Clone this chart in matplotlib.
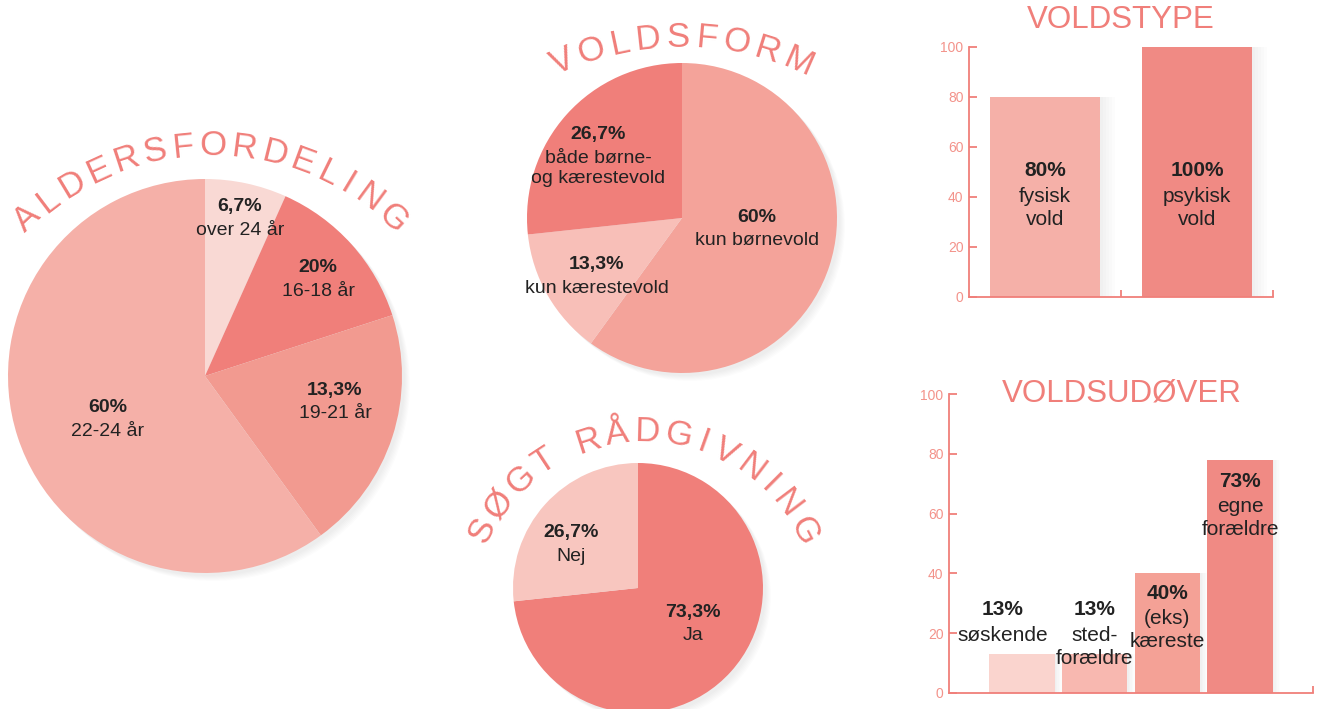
import numpy as np
import matplotlib
matplotlib.use("Agg")
import matplotlib.pyplot as plt
from matplotlib import font_manager as fm
from matplotlib.textpath import text_to_path

W, H = 1323, 709

# --- data ---------------------------------------------------------------
AGE_SIZES = [6.7, 13.3, 20.0, 60.0]
AGE_COLORS = ["#f9d9d4", "#f07f7a", "#f29a90", "#f5b0a8"]
AGE_PCT = ["6,7%", "20%", "13,3%", "60%"]
AGE_DESC = ["over 24 år", "16-18 år", "19-21 år", "22-24 år"]

FORM_SIZES = [60.0, 13.3, 26.7]
FORM_COLORS = ["#f4a39a", "#f8bfb8", "#f07f7a"]
FORM_PCT = ["60%", "13,3%", "26,7%"]
FORM_DESC = ["kun børnevold", "kun kærestevold", "både børne-\nog kærestevold"]

HELP_SIZES = [73.3, 26.7]
HELP_COLORS = ["#f07f7a", "#f8c6bf"]
HELP_PCT = ["73,3%", "26,7%"]
HELP_DESC = ["Ja", "Nej"]

TYPE_VALUES = [80, 100]
TYPE_COLORS = ["#f5b0a8", "#f08a84"]
TYPE_PCT = ["80%", "100%"]
TYPE_DESC = ["fysisk\nvold", "psykisk\nvold"]

PERP_VALUES = [13, 13, 40, 78]
PERP_COLORS = ["#fad4ce", "#f8b8b0", "#f4a196", "#f08a84"]
PERP_PCT = ["13%", "13%", "40%", "73%"]
PERP_DESC = ["søskende", "sted-\nforældre", "(eks)\nkæreste", "egne\nforældre"]

Y_TICKS = [0, 20, 40, 60, 80, 100]

SALMON = "#f07f7a"
TICK_TXT = "#f3938b"
INK = "#222222"
FONT = "Liberation Sans"


def Y(py):
    return H - py


def arc_text(ax, text, cx, cy, r, a0, a1, size, track=0.45):
    prop = fm.FontProperties(family=FONT, size=size)
    widths = [text_to_path.get_text_width_height_descent(c, prop, ismath=False)[0]
              for c in text]
    gap = track * size
    centers, pos = [], 0.0
    for w in widths:
        centers.append(pos + w / 2)
        pos += w + gap
    centers = np.array(centers)
    frac = (centers - centers[0]) / (centers[-1] - centers[0])
    for ch, f in zip(text, frac):
        a = np.radians(a0 + (a1 - a0) * f)
        x = cx + r * np.sin(a)
        y = Y(cy) + r * np.cos(a)
        ax.text(x, y, ch, rotation=-np.degrees(a), rotation_mode="anchor",
                ha="center", va="center", fontproperties=prop, color=SALMON)


def label(ax, x, y, pct, desc, size=14, coords="data"):
    ax.annotate(pct, (x, y), xycoords=coords, ha="center", va="center",
                fontsize=size, fontweight="bold", color=INK, family=FONT)
    ax.annotate(desc, (x, y), xycoords=coords, xytext=(0, -0.75 * size),
                textcoords="offset points", ha="center", va="top",
                fontsize=size, color=INK, family=FONT, linespacing=1.3)


fig = plt.figure(figsize=(W / 100, H / 100), dpi=100)
fig.patch.set_facecolor("white")
ax = fig.add_axes([0, 0, 1, 1])

# soft shadows behind the pies
for (cx, cy, r) in [(205, 376, 197), (682, 218, 155), (638, 588, 125)]:
    for k in range(1, 7):
        ax.add_patch(plt.Circle((cx + 2 + k, Y(cy) - 2 - k), r, color="#000000",
                                alpha=0.012, lw=0, zorder=0))

ax.pie(AGE_SIZES, colors=AGE_COLORS, startangle=90, counterclock=False,
       center=(205, Y(376)), radius=197, wedgeprops=dict(linewidth=0))
ax.pie(FORM_SIZES, colors=FORM_COLORS, startangle=90, counterclock=False,
       center=(682, Y(218)), radius=155, wedgeprops=dict(linewidth=0))
ax.pie(HELP_SIZES, colors=HELP_COLORS, startangle=90, counterclock=False,
       center=(638, Y(588)), radius=125, wedgeprops=dict(linewidth=0))
ax.set_xlim(0, W)
ax.set_ylim(0, H)
ax.set_aspect("equal")
ax.axis("off")

# pie labels
for (px, py), p, d in zip([(240, 207), (318, 268), (335, 390), (108, 408)],
                          AGE_PCT, AGE_DESC):
    label(ax, px, Y(py), p, d)
for (px, py), p, d in zip([(757, 217), (597, 265), (598, 135)],
                          FORM_PCT, FORM_DESC):
    label(ax, px, Y(py), p, d)
for (px, py), p, d in zip([(693, 612), (571, 533)], HELP_PCT, HELP_DESC):
    label(ax, px, Y(py), p, d)

# curved titles
arc_text(ax, "ALDERSFORDELING", 210, 414, 268, -43, 43, 25)
arc_text(ax, "VOLDSFORM", 680, 330, 293, -23.7, 23.7, 25)
arc_text(ax, "SØGT RÅDGIVNING", 643, 612, 180, -63, 63, 25)


def style_bar_axes(bx):
    bx.set_facecolor("none")
    for s in ("top", "right"):
        bx.spines[s].set_visible(False)
    for s in ("left", "bottom"):
        bx.spines[s].set_color(SALMON)
        bx.spines[s].set_linewidth(1.3)
    bx.set_yticks(Y_TICKS)
    bx.tick_params(axis="y", direction="in", length=6, width=1.3,
                   color=SALMON, labelcolor=TICK_TXT, labelsize=10, pad=4)
    bx.tick_params(axis="x", direction="in", length=5, width=1.3,
                   color=SALMON, labelbottom=False)
    for t in bx.get_yticklabels():
        t.set_family(FONT)
    bx.set_ylim(0, 100)


def bar_shadow(bx, xs, values, width):
    for k in range(1, 6):
        bx.bar(xs + 0.02 * k, values, width=width, color="#000000",
               alpha=0.01, zorder=1, linewidth=0)


# VOLDSTYPE
bx1 = fig.add_axes([969 / W, Y(297) / H, (1273 - 969) / W, (297 - 47) / H])
xs = np.arange(len(TYPE_VALUES))
bar_shadow(bx1, xs, TYPE_VALUES, 0.72)
bx1.bar(xs, TYPE_VALUES, width=0.72, color=TYPE_COLORS, zorder=2)
bx1.set_xlim(-0.5, 1.5)
bx1.set_xticks([0.5, 1.5])
style_bar_axes(bx1)
for i, (p, d) in enumerate(zip(TYPE_PCT, TYPE_DESC)):
    label(bx1, i, 50.4, p, d, size=15)
fig.text(1121 / W, Y(20) / H, "VOLDSTYPE", ha="center", va="center",
         fontsize=22.5, color=SALMON, family=FONT)

# VOLDSUDØVER
bx2 = fig.add_axes([949 / W, Y(693) / H, (1313 - 949) / W, (693 - 394) / H])
xs = np.arange(len(PERP_VALUES))
bar_shadow(bx2, xs, PERP_VALUES, 0.9)
bx2.bar(xs, PERP_VALUES, width=0.9, color=PERP_COLORS, zorder=2)
bx2.set_xlim(-1.0, 4.0)
bx2.set_xticks([4.0])
style_bar_axes(bx2)
for x, y, p, d in zip([-0.26, 1.0, 2.0, 3.0], [27.8, 27.8, 33.4, 70.9],
                      PERP_PCT, PERP_DESC):
    label(bx2, x, y, p, d, size=15)
fig.text(1122 / W, Y(393) / H, "VOLDSUDØVER", ha="center", va="center",
         fontsize=22.5, color=SALMON, family=FONT)

fig.savefig("out.png", dpi=100, facecolor="white")
